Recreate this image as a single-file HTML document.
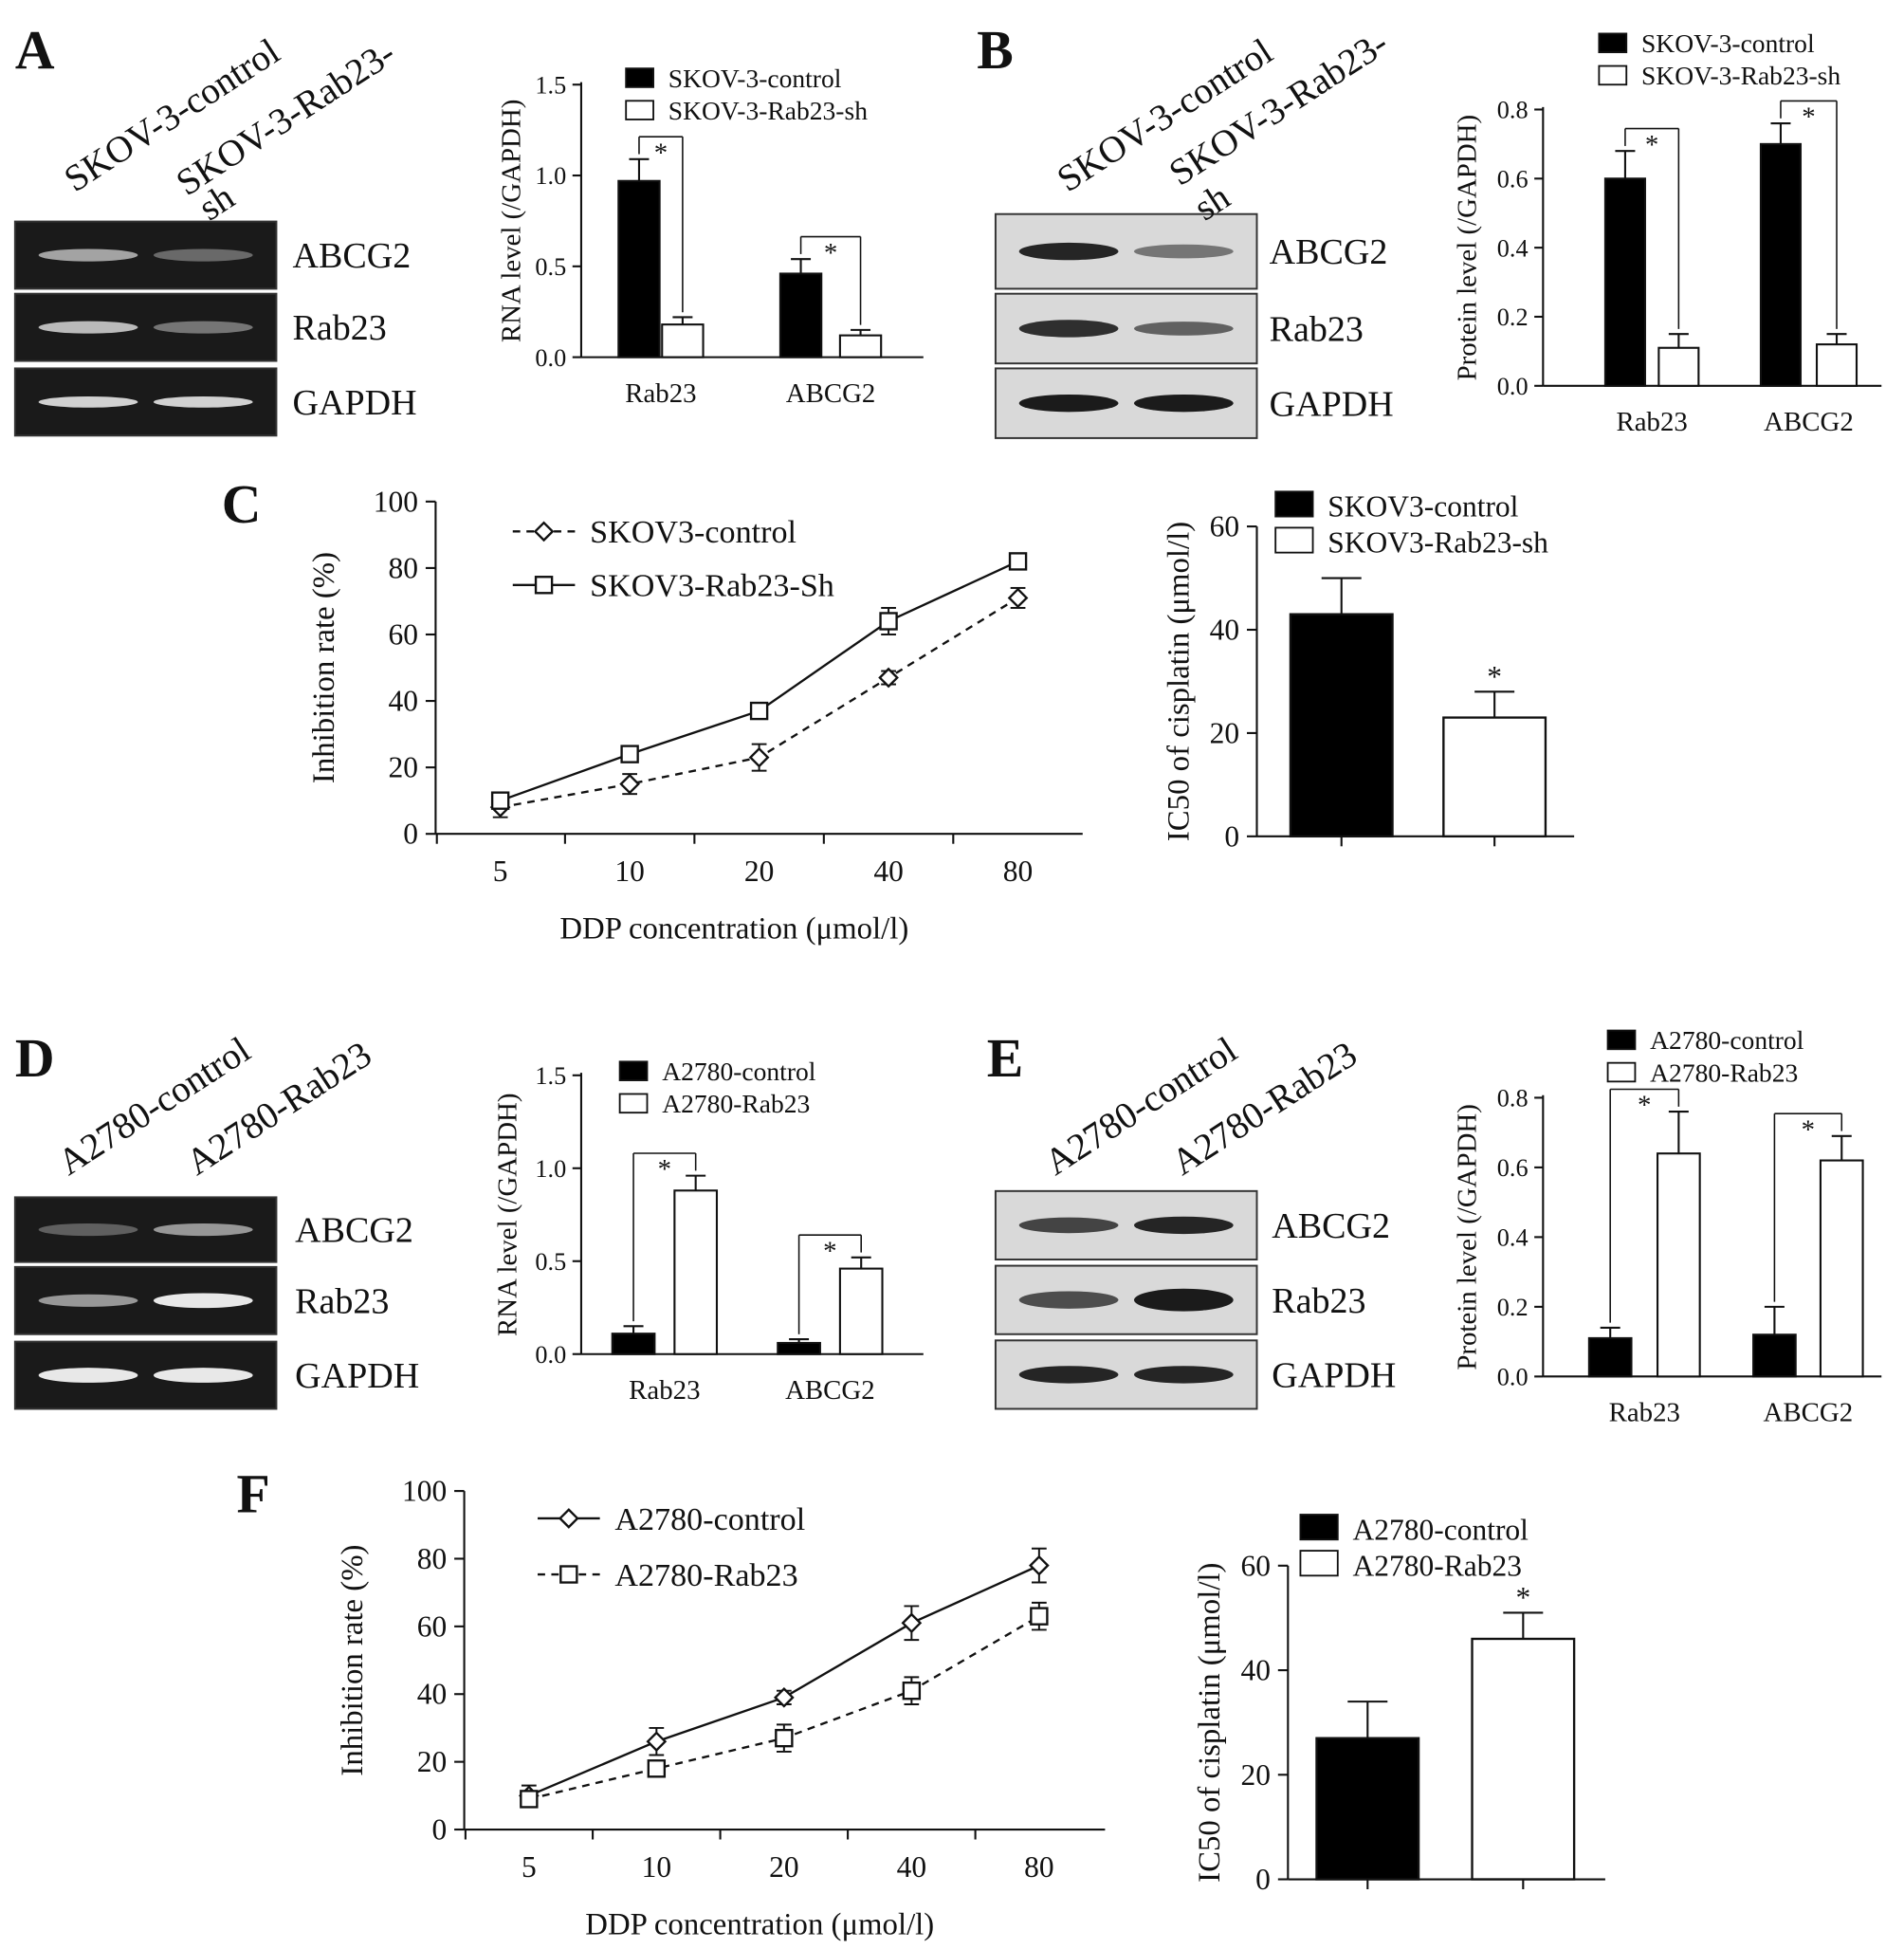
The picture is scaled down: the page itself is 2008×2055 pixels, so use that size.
<!DOCTYPE html>
<html><head><meta charset="utf-8"><style>
html,body{margin:0;padding:0;background:#fff}
svg{display:block}
text{font-family:"Liberation Serif",serif;fill:#111}
</style></head><body>
<svg id="fig" width="2008" height="2055" viewBox="0 0 1530 1566" xmlns="http://www.w3.org/2000/svg"></svg>
<script>
// ---- data ----
const barCats = ["Rab23","ABCG2"];
const aCtrl = [0.97,0.46], aSh = [0.18,0.12], aCtrlErr=[0.12,0.08], aShErr=[0.04,0.03];
const bCtrl = [0.60,0.70], bSh = [0.11,0.12], bCtrlErr=[0.08,0.06], bShErr=[0.04,0.03];
const dCtrl = [0.11,0.06], dRab = [0.88,0.46], dCtrlErr=[0.04,0.02], dRabErr=[0.08,0.06];
const eCtrl = [0.11,0.12], eRab = [0.64,0.62], eCtrlErr=[0.03,0.08], eRabErr=[0.12,0.07];
const doses = ["5","10","20","40","80"];
const cCtrl = [8,15,23,47,71], cCtrlErr=[3,3,4,2,3];
const cSh = [10,24,37,64,82], cShErr=[2,2,2,4,2];
const fCtrl = [10,26,39,61,78], fCtrlErr=[3,4,2,5,5];
const fRab = [9,18,27,41,63], fRabErr=[2,2,4,4,4];
const icCS = [43,23], icCSErr=[7,5];
const icF = [27,46], icFErr=[7,5];

const svg=document.getElementById('fig');
const NS='http://www.w3.org/2000/svg';
function el(tag,attrs,parent,txt){const e=document.createElementNS(NS,tag);for(const k in attrs)e.setAttribute(k,attrs[k]);if(txt!==undefined)e.textContent=txt;(parent||svg).appendChild(e);return e;}
function grp(name){const g=el('g',{});return g;}
function txt(g,x,y,s,size,anchor,rot,name){const t=el('text',{x:x,y:y,'font-size':size,'text-anchor':anchor||'start'},g,s);if(rot)t.setAttribute('transform',`rotate(${rot} ${x} ${y})`);return t;}
function line(g,x1,y1,x2,y2,w,dash){const l=el('line',{x1,y1,x2,y2,stroke:'#111','stroke-width':w||1.6},g);if(dash)l.setAttribute('stroke-dasharray',dash);return l;}

// panel letters
[["A",12,55],["B",785,55],["C",178,420],["D",12,865],["E",793,865],["F",190,1215]].forEach(p=>{const g=grp('panel-label-'+p[0].toLowerCase());txt(g,p[1],p[2],p[0],44,'start',0,'panel-letter').setAttribute('font-weight','bold');});

// gels
function gel(name,x,w,rows,dark,labels,lx,bands){
  const g=grp(name);
  rows.forEach((r,i)=>{
    el('rect',{x:x,y:r[0],width:w,height:r[1]-r[0],fill:dark?'#1a1a1a':'#d9d9d9',stroke:'#333','stroke-width':1.5},g);
    const cy=(r[0]+r[1])/2;
    bands[i].forEach((b,j)=>{
      const bx=x+w*(j==0?0.28:0.72);
      const e=el('ellipse',{cx:bx,cy:cy,rx:w*0.19,ry:(dark?5:7)*b[1],fill:dark?'#fff':'#111',opacity:b[0]},g);
      
    });
    txt(g,lx,cy+10,labels[i],29,'start',0,'band-label');
  });
}
gel('gel-a',12,210,[[178,232],[236,290],[296,350]],true,["ABCG2","Rab23","GAPDH"],235,[[[0.6,1],[0.35,1]],[[0.7,1],[0.4,1]],[[0.8,0.9],[0.8,0.9]]]);
gel('gel-b',800,210,[[172,232],[236,292],[296,352]],false,["ABCG2","Rab23","GAPDH"],1020,[[[0.9,1],[0.5,0.8]],[[0.85,1],[0.6,0.8]],[[0.95,1],[0.95,1]]]);
gel('gel-d',12,210,[[962,1014],[1018,1072],[1078,1132]],true,["ABCG2","Rab23","GAPDH"],237,[[[0.3,1],[0.55,1]],[[0.55,1],[0.9,1.2]],[[0.9,1.2],[0.9,1.2]]]);
gel('gel-e',800,210,[[957,1012],[1017,1072],[1077,1132]],false,["ABCG2","Rab23","GAPDH"],1022,[[[0.75,0.9],[0.9,1]],[[0.7,1],[0.95,1.3]],[[0.9,1],[0.9,1]]]);
// lane labels
(function(){const g=grp('lane-labels');
txt(g,60,155,"SKOV-3-control",30,'start',-33);txt(g,150,158,"SKOV-3-Rab23-",30,'start',-33);txt(g,168,178,"sh",30,'start',-33);
txt(g,858,155,"SKOV-3-control",30,'start',-33);txt(g,948,150,"SKOV-3-Rab23-",30,'start',-33);txt(g,968,178,"sh",30,'start',-33);
txt(g,55,945,"A2780-control",30,'start',-33);txt(g,158,945,"A2780-Rab23",30,'start',-33);
txt(g,848,945,"A2780-control",30,'start',-33);txt(g,950,945,"A2780-Rab23",30,'start',-33);})();

// grouped bar chart
function barChart(name,o){
  const g=grp(name);
  const ys=v=>o.y0-(v/o.max)*(o.y0-o.yTop);
  line(g,o.ax,o.yTop-2,o.ax,o.y0);line(g,o.ax,o.y0,o.xEnd,o.y0);
  o.ticks.forEach(t=>{const y=ys(t);line(g,o.ax-7,y,o.ax,y);txt(g,o.ax-12,y+7,t.toFixed(o.dec),20,'end',0,'y-tick-label');});
  txt(g,o.ylx,(o.y0+o.yTop)/2,o.ylab,22,'middle',-90,'y-axis-title');
  barCats.forEach((c,i)=>{
    const xs=[o.x1[i],o.x2[i]];
    [[o.s1,o.e1,'#000'],[o.s2,o.e2,'#fff']].forEach((s,k)=>{
      const v=s[0][i],y=ys(v),x=xs[k];
      const r=el('rect',{x:x,y:y,width:o.bw,height:o.y0-y,fill:s[2],stroke:'#111','stroke-width':1.6},g);
      
      
      const ye=ys(v+s[1][i]);line(g,x+o.bw/2,y,x+o.bw/2,ye);line(g,x+o.bw/2-8,ye,x+o.bw/2+8,ye);
    });
    const top=Math.min(ys(o.s1[i]+o.e1[i]),ys(o.s2[i]+o.e2[i]))-18;
    const c1=xs[0]+o.bw/2,c2=xs[1]+o.bw/2;
    line(g,c1,ys(o.s1[i]+o.e1[i])-4,c1,top,1.2);line(g,c1,top,c2,top,1.2);line(g,c2,top,c2,ys(o.s2[i]+o.e2[i])-4,1.2);
    txt(g,(c1+c2)/2,top+20,"*",22,'middle',0,'significance-star');
    txt(g,(c1+c2+o.bw)/2-o.bw/2,o.y0+36,c,22,'middle',0,'x-tick-label');
  });
  o.leg.forEach((l,k)=>{const y=o.ly+k*26;el('rect',{x:o.lx,y:y-15,width:22,height:15,fill:k?'#fff':'#000',stroke:'#111','stroke-width':1.4},g);txt(g,o.lx+34,y,l,21,'start',0,'legend-entry');});
}
barChart('chart-a-rna',{ax:467,y0:287,yTop:68,max:1.5,ticks:[0,0.5,1.0,1.5],dec:1,xEnd:742,ylx:418,ylab:"RNA level (/GAPDH)",x1:[497,627],x2:[532,675],bw:33,s1:aCtrl,e1:aCtrlErr,s2:aSh,e2:aShErr,lx:503,ly:70,leg:["SKOV-3-control","SKOV-3-Rab23-sh"]});
barChart('chart-b-protein',{ax:1240,y0:310,yTop:88,max:0.8,ticks:[0,0.2,0.4,0.6,0.8],dec:1,xEnd:1512,ylx:1186,ylab:"Protein level (/GAPDH)",x1:[1290,1415],x2:[1333,1460],bw:32,s1:bCtrl,e1:bCtrlErr,s2:bSh,e2:bShErr,lx:1285,ly:42,leg:["SKOV-3-control","SKOV-3-Rab23-sh"]});
barChart('chart-d-rna',{ax:467,y0:1088,yTop:864,max:1.5,ticks:[0,0.5,1.0,1.5],dec:1,xEnd:742,ylx:415,ylab:"RNA level (/GAPDH)",x1:[492,625],x2:[542,675],bw:34,s1:dCtrl,e1:dCtrlErr,s2:dRab,e2:dRabErr,lx:498,ly:868,leg:["A2780-control","A2780-Rab23"]});
barChart('chart-e-protein',{ax:1240,y0:1106,yTop:882,max:0.8,ticks:[0,0.2,0.4,0.6,0.8],dec:1,xEnd:1512,ylx:1186,ylab:"Protein level (/GAPDH)",x1:[1277,1409],x2:[1332,1463],bw:34,s1:eCtrl,e1:eCtrlErr,s2:eRab,e2:eRabErr,lx:1292,ly:843,leg:["A2780-control","A2780-Rab23"]});

// line chart
function marker(g,type,x,y){
  if(type=='d'){const p=el('polygon',{points:`${x},${y-7} ${x+7},${y} ${x},${y+7} ${x-7},${y}`,fill:'#fff',stroke:'#111','stroke-width':1.8},g);}
  else{const r=el('rect',{x:x-6.5,y:y-6.5,width:13,height:13,fill:'#fff',stroke:'#111','stroke-width':1.8},g);}
}
function lineChart(name,o){
  const g=grp(name);
  const ys=v=>o.y0-(v/100)*(o.y0-o.yTop);
  line(g,o.ax,o.yTop,o.ax,o.y0);line(g,o.ax,o.y0,o.xEnd,o.y0);
  [0,20,40,60,80,100].forEach(t=>{const y=ys(t);line(g,o.ax-8,y,o.ax,y);txt(g,o.ax-14,y+8,t,24,'end',0,'y-tick-label');});
  const xs=doses.map((d,i)=>o.x0+i*o.dx);
  doses.forEach((d,i)=>{const tx=xs[i]+o.dx/2;if(i<doses.length-1)line(g,tx,o.y0,tx,o.y0+8);txt(g,xs[i],o.y0+38,d,24,'middle',0,'x-tick-label');});
  line(g,o.ax+1,o.y0,o.ax+1,o.y0+8);
  txt(g,(o.ax+o.xEnd)/2-20,o.y0+84,"DDP concentration (μmol/l)",25,'middle',0,'x-axis-title');
  txt(g,o.ax-82,ys(50),"Inhibition rate (%)",25,'middle',-90,'y-axis-title');
  o.series.forEach(s=>{
    const pts=s.v.map((v,i)=>xs[i]+','+ys(v)).join(' ');
    const pl=el('polyline',{points:pts,fill:'none',stroke:'#111','stroke-width':1.8},g);
    if(s.dash)pl.setAttribute('stroke-dasharray','6 5');
    
    s.v.forEach((v,i)=>{const e=s.e[i];line(g,xs[i],ys(v+e),xs[i],ys(v-e),1.5);line(g,xs[i]-6,ys(v+e),xs[i]+6,ys(v+e),1.5);line(g,xs[i]-6,ys(v-e),xs[i]+6,ys(v-e),1.5);marker(g,s.m,xs[i],ys(v));});
  });
  o.series.forEach((s,k)=>{const y=o.ly+k*o.lgap;const l=line(g,o.lx,y,o.lx+50,y,1.8,s.dash?'6 5':null);marker(g,s.m,o.lx+25,y);txt(g,o.lx+62,y+9,s.label,26,'start',0,'legend-entry');});
}
lineChart('chart-c-inhibition',{ax:350,y0:670,yTop:403,xEnd:870,x0:402,dx:104,lx:412,ly:427,lgap:43,series:[{n:'control',v:cCtrl,e:cCtrlErr,m:'d',dash:true,label:"SKOV3-control"},{n:'sh',v:cSh,e:cShErr,m:'s',dash:false,label:"SKOV3-Rab23-Sh"}]});
lineChart('chart-f-inhibition',{ax:373,y0:1470,yTop:1198,xEnd:888,x0:425,dx:102.5,lx:432,ly:1220,lgap:45,series:[{n:'control',v:fCtrl,e:fCtrlErr,m:'d',dash:false,label:"A2780-control"},{n:'rab23',v:fRab,e:fRabErr,m:'s',dash:true,label:"A2780-Rab23"}]});

// IC50 chart
function icChart(name,o){
  const g=grp(name);
  const ys=v=>o.y0-(v/60)*(o.y0-o.yTop);
  line(g,o.ax,o.yTop,o.ax,o.y0);line(g,o.ax,o.y0,o.xEnd,o.y0);
  [0,20,40,60].forEach(t=>{const y=ys(t);line(g,o.ax-8,y,o.ax,y);txt(g,o.ax-14,y+8,t,24,'end',0,'y-tick-label');});
  txt(g,o.ax-55,ys(30),"IC50 of cisplatin (μmol/l)",25,'middle',-90,'y-axis-title');
  o.v.forEach((v,i)=>{const x=o.xs[i],y=ys(v);
    const r=el('rect',{x:x,y:y,width:o.bw,height:o.y0-y,fill:i?'#fff':'#000',stroke:'#111','stroke-width':1.8},g);
    
    const cx=x+o.bw/2,ye=ys(v+o.e[i]);line(g,cx,y,cx,ye);line(g,cx-16,ye,cx+16,ye);
    line(g,cx,o.y0,cx,o.y0+8);
    if(i)txt(g,cx,ye-4,"*",24,'middle',0,'significance-star');});
  o.leg.forEach((l,k)=>{const y=o.ly+k*29;el('rect',{x:o.lx,y:y-20,width:30,height:20,fill:k?'#fff':'#000',stroke:'#111','stroke-width':1.4},g);txt(g,o.lx+42,y,l,24,'start',0,'legend-entry');});
}
icChart('chart-c-ic50',{ax:1010,y0:672,yTop:423,xEnd:1265,xs:[1037,1160],bw:82,v:icCS,e:icCSErr,lx:1025,ly:415,leg:["SKOV3-control","SKOV3-Rab23-sh"]});
icChart('chart-f-ic50',{ax:1035,y0:1510,yTop:1258,xEnd:1290,xs:[1058,1183],bw:82,v:icF,e:icFErr,lx:1045,ly:1237,leg:["A2780-control","A2780-Rab23"]});
</script>
</body></html>
